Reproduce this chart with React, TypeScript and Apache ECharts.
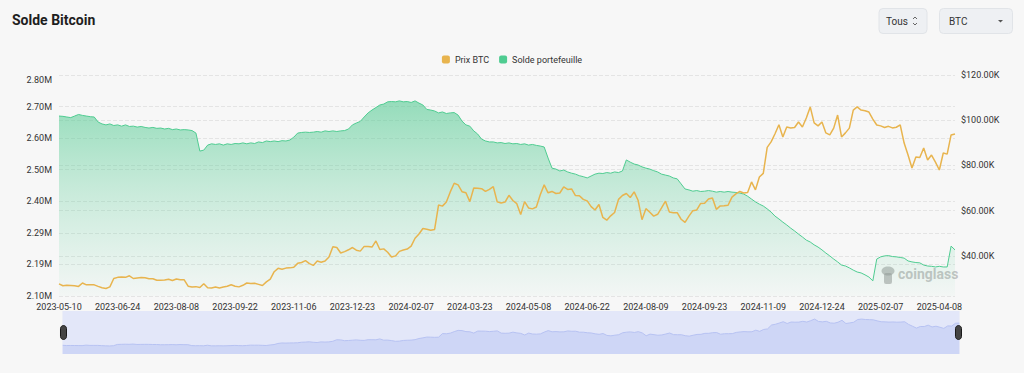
import React, { useEffect, useRef } from "react";
import * as echarts from "echarts";

// ---------- DATA ----------
const LABEL_DATES = [
  "2023-05-10", "2023-06-24", "2023-08-08", "2023-09-22", "2023-11-06",
  "2023-12-23", "2024-02-07", "2024-03-23", "2024-05-08", "2024-06-22",
  "2024-08-09", "2024-09-23", "2024-11-09", "2024-12-24", "2025-02-07",
  "2025-04-08",
];
const STEPS_PER_LABEL = 15;
const TAIL_DAYS = [4, 8, 12, 16];

// BTC price (USD)
const BTC_PRICE = [
  27600, 26800, 27000, 26900, 26800, 26500, 28000, 27200, 27200, 27200,
  26500, 25900, 25600, 26300, 30000, 30500, 30700, 30500, 31200, 30000,
  30200, 30400, 30300, 29900, 29900, 29200, 29200, 29300, 29700, 29100,
  29800, 29400, 29400, 26600, 26200, 26400, 26000, 27700, 25900, 25800,
  26200, 25800, 26200, 26600, 27200, 26600, 26300, 27000, 28000, 27800,
  27900, 27400, 26900, 28500, 29700, 33000, 34500, 34100, 34600, 34700,
  35000, 36700, 37100, 37900, 36600, 35800, 37700, 37200, 37700, 39500,
  44000, 43700, 41300, 41900, 42700, 43700, 42500, 42100, 44200, 44200,
  43900, 46600, 42800, 43100, 41600, 39500, 40000, 42000, 42600, 43000,
  44300, 47800, 49700, 52100, 51800, 51300, 51700, 62500, 62000, 63800,
  68300, 72100, 71400, 68400, 67900, 64000, 70000, 69900, 69700, 68500,
  69400, 70600, 63900, 63400, 63800, 66800, 64500, 63100, 58300, 64000,
  61200, 60800, 61600, 67000, 71400, 67900, 68500, 67600, 67800, 70500,
  69400, 69600, 66700, 66600, 65000, 64300, 61800, 60300, 62700, 57000,
  55800, 57700, 59200, 65000, 66700, 67600, 65800, 68300, 64600, 56000,
  60900, 59300, 57600, 58400, 61200, 64200, 59400, 59100, 59100, 56200,
  54800, 57600, 60000, 60300, 63200, 63300, 65200, 65600, 60600, 62100,
  62200, 62400, 66000, 67400, 68500, 67800, 68000, 72700, 69200, 74900,
  76500, 88000, 90400, 94000, 98000, 92600, 97000, 96600, 96800, 99200,
  97000, 101000, 105900, 98800, 97500, 99200, 94400, 93500, 96500, 102300,
  92600, 94400, 96500, 104500, 105900, 104500, 104200, 103600, 100500, 97900,
  97500, 96800, 97300, 96600, 96900, 97900, 89900, 84600, 78900, 83700,
  83500, 87700, 82400, 84600, 81500, 78000, 85500, 85000, 93500, 93900,
];

// Wallet balance (BTC)
const WALLET_BALANCE = [
  2665000, 2664000, 2662000, 2660000, 2665000, 2670000, 2667000, 2665000, 2663000, 2662000,
  2646000, 2640000, 2637000, 2640000, 2635000, 2637000, 2633000, 2637000, 2632000, 2633000,
  2630000, 2632000, 2629000, 2627000, 2629000, 2626000, 2627000, 2624000, 2626000, 2622000,
  2624000, 2621000, 2622000, 2621000, 2619000, 2611000, 2554000, 2557000, 2573000, 2577000,
  2575000, 2577000, 2573000, 2577000, 2575000, 2578000, 2577000, 2580000, 2577000, 2580000,
  2578000, 2583000, 2581000, 2586000, 2584000, 2586000, 2584000, 2587000, 2586000, 2589000,
  2598000, 2611000, 2613000, 2614000, 2613000, 2614000, 2616000, 2614000, 2618000, 2616000,
  2618000, 2616000, 2618000, 2619000, 2624000, 2637000, 2643000, 2648000, 2662000, 2675000,
  2684000, 2692000, 2700000, 2703000, 2710000, 2711000, 2710000, 2713000, 2710000, 2711000,
  2708000, 2713000, 2706000, 2700000, 2686000, 2684000, 2681000, 2675000, 2678000, 2673000,
  2675000, 2676000, 2668000, 2649000, 2637000, 2633000, 2618000, 2608000, 2592000, 2586000,
  2583000, 2583000, 2580000, 2581000, 2578000, 2580000, 2577000, 2578000, 2575000, 2577000,
  2573000, 2575000, 2572000, 2570000, 2567000, 2532000, 2500000, 2497000, 2491000, 2494000,
  2488000, 2484000, 2481000, 2476000, 2473000, 2469000, 2475000, 2481000, 2484000, 2483000,
  2486000, 2484000, 2488000, 2486000, 2491000, 2526000, 2519000, 2513000, 2510000, 2504000,
  2500000, 2497000, 2492000, 2488000, 2481000, 2478000, 2475000, 2469000, 2466000, 2450000,
  2434000, 2431000, 2427000, 2429000, 2426000, 2427000, 2429000, 2427000, 2424000, 2426000,
  2424000, 2426000, 2424000, 2423000, 2421000, 2418000, 2411000, 2402000, 2393000, 2386000,
  2380000, 2371000, 2361000, 2348000, 2339000, 2329000, 2320000, 2310000, 2301000, 2291000,
  2282000, 2272000, 2266000, 2257000, 2250000, 2241000, 2231000, 2222000, 2212000, 2203000,
  2193000, 2190000, 2184000, 2177000, 2171000, 2168000, 2162000, 2155000, 2143000, 2212000,
  2219000, 2222000, 2223000, 2220000, 2219000, 2217000, 2215000, 2206000, 2203000, 2201000,
  2200000, 2193000, 2190000, 2189000, 2187000, 2189000, 2187000, 2187000, 2253000, 2241000,
];

const LEFT_TICK_LABELS = ["2.10M", "2.19M", "2.29M", "2.40M", "2.50M", "2.60M", "2.70M", "2.80M"];
const LEFT_MIN = 2095000;
const LEFT_STEP = 100000;
const LEFT_MAX = 2795000;
const RIGHT_MIN = 22260;
const RIGHT_MAX = 120000;

const SERIES_NAMES = ["Prix BTC", "Solde portefeuille"];

// ---------- helpers ----------
const DAY = 86400000;
function fmtDate(t: number): string {
  const d = new Date(t);
  const m = String(d.getUTCMonth() + 1).padStart(2, "0");
  const dd = String(d.getUTCDate()).padStart(2, "0");
  return `${d.getUTCFullYear()}-${m}-${dd}`;
}
function buildDates(): string[] {
  const out: string[] = [];
  for (let i = 0; i < LABEL_DATES.length - 1; i++) {
    const a = Date.parse(LABEL_DATES[i] + "T00:00:00Z");
    const b = Date.parse(LABEL_DATES[i + 1] + "T00:00:00Z");
    const days = Math.round((b - a) / DAY);
    for (let j = 0; j < STEPS_PER_LABEL; j++) {
      out.push(fmtDate(a + Math.round((days * j) / STEPS_PER_LABEL) * DAY));
    }
  }
  const last = Date.parse(LABEL_DATES[LABEL_DATES.length - 1] + "T00:00:00Z");
  out.push(fmtDate(last));
  TAIL_DAYS.forEach((d) => out.push(fmtDate(last + d * DAY)));
  return out;
}

const FONT = "Roboto, 'Liberation Sans', Arial, sans-serif";
const YELLOW = "#e8b44e";
const GREEN = "#4fcc91";

export default function App() {
  const ref = useRef<HTMLDivElement>(null);

  useEffect(() => {
    if (!ref.current) return;
    const chart = echarts.init(ref.current, undefined, { renderer: "svg" });
    const dates = buildDates();

    const option: any = {
      animation: false,
      backgroundColor: "#f7f7f7",
      textStyle: { fontFamily: FONT },
      title: {
        text: "Solde Bitcoin",
        left: 12,
        top: 13,
        padding: 0,
        textStyle: { fontSize: 14, fontWeight: "bold", color: "#1e1e1e", fontFamily: FONT },
      },
      legend: {
        top: 50,
        left: "center",
        icon: "roundRect",
        itemWidth: 8,
        itemHeight: 8,
        itemGap: 10,
        textStyle: { fontSize: 9, color: "#333", fontFamily: FONT },
        data: SERIES_NAMES,
      },
      grid: { left: 59, right: 69, top: 75, bottom: 77 },
      xAxis: {
        type: "category",
        data: dates,
        boundaryGap: false,
        axisLine: { show: false },
        axisTick: { show: false },
        splitLine: { show: false },
        axisLabel: { interval: STEPS_PER_LABEL - 1, color: "#333", fontSize: 9, margin: 6, fontFamily: FONT },
      },
      yAxis: [
        {
          type: "value",
          position: "left",
          min: LEFT_MIN,
          max: LEFT_MAX,
          interval: LEFT_STEP,
          axisLine: { show: false },
          axisTick: { show: false },
          splitLine: { lineStyle: { type: "dashed", color: "#e4e4e4" } },
          axisLabel: {
            fontSize: 9,
            color: "#333",
            margin: 7,
            fontFamily: FONT,
            verticalAlignMaxLabel: "top",
            formatter: (v: number) => LEFT_TICK_LABELS[Math.round((v - LEFT_MIN) / LEFT_STEP)] ?? "",
          },
        },
        {
          type: "value",
          position: "right",
          min: RIGHT_MIN,
          max: RIGHT_MAX,
          splitNumber: 5,
          axisLine: { show: false },
          axisTick: { show: false },
          splitLine: { lineStyle: { type: "dashed", color: "#e4e4e4" } },
          axisLabel: {
            fontSize: 9,
            color: "#333",
            margin: 6,
            fontFamily: FONT,
            showMinLabel: false,
            formatter: (v: number) => "$" + (v / 1000).toFixed(2) + "K",
          },
        },
      ],
      dataZoom: [
        {
          type: "slider",
          xAxisIndex: 0,
          start: 0,
          end: 100,
          left: 60,
          right: 67,
          top: 311,
          height: 43,
          showDetail: false,
          brushSelect: false,
          moveHandleSize: 0,
          borderColor: "transparent",
          backgroundColor: "#e8ebfa",
          fillerColor: "rgba(200,208,245,0.15)",
          dataBackground: {
            lineStyle: { color: "#b4c0f1", width: 1 },
            areaStyle: { color: "#cfd7f6", opacity: 1 },
          },
          selectedDataBackground: {
            lineStyle: { color: "#b4c0f1", width: 1 },
            areaStyle: { color: "#cfd7f6", opacity: 1 },
          },
          handleIcon:
            "path://M3,0 C4.66,0 6,1.34 6,3 L6,11 C6,12.66 4.66,14 3,14 C1.34,14 0,12.66 0,11 L0,3 C0,1.34 1.34,0 3,0 Z",
          handleSize: 14,
          handleStyle: { color: "#444", borderColor: "#1a1a1a", borderWidth: 1 },
        },
      ],
      series: [
        {
          name: SERIES_NAMES[0],
          type: "line",
          yAxisIndex: 1,
          data: BTC_PRICE,
          symbol: "none",
          showSymbol: false,
          z: 3,
          lineStyle: { color: YELLOW, width: 1.5 },
          itemStyle: { color: YELLOW },
        },
        {
          name: SERIES_NAMES[1],
          type: "line",
          yAxisIndex: 0,
          data: WALLET_BALANCE,
          symbol: "none",
          showSymbol: false,
          z: 2,
          lineStyle: { color: GREEN, width: 1 },
          itemStyle: { color: GREEN },
          areaStyle: {
            origin: "start",
            color: new echarts.graphic.LinearGradient(
              0, 75, 0, 296,
              [
                { offset: 0, color: "rgba(76,200,142,0.95)" },
                { offset: 0.5, color: "rgba(90,205,150,0.45)" },
                { offset: 1, color: "rgba(100,210,160,0.04)" },
              ],
              true
            ),
          },
        },
      ],
      graphic: [
        {
          type: "rect",
          shape: { x: 879, y: 8.5, width: 48, height: 25, r: 4 },
          style: { fill: "#eef0f3", stroke: "#e1e4e8", lineWidth: 1 },
        },
        {
          type: "text",
          x: 886,
          y: 21,
          style: { text: "Tous", fontSize: 10, fill: "#333", fontFamily: FONT, verticalAlign: "middle" },
        },
        {
          type: "polyline",
          shape: { points: [[913, 19], [915, 17], [917, 19]] },
          style: { stroke: "#666", lineWidth: 1, fill: "none" },
        },
        {
          type: "polyline",
          shape: { points: [[913, 23], [915, 25], [917, 23]] },
          style: { stroke: "#666", lineWidth: 1, fill: "none" },
        },
        {
          type: "rect",
          shape: { x: 939.5, y: 8.5, width: 73, height: 25, r: 4 },
          style: { fill: "#eef0f3", stroke: "#e1e4e8", lineWidth: 1 },
        },
        {
          type: "text",
          x: 949,
          y: 21,
          style: { text: "BTC", fontSize: 10, fill: "#333", fontFamily: FONT, verticalAlign: "middle" },
        },
        {
          type: "polygon",
          shape: { points: [[998, 20], [1003, 20], [1000.5, 22.5]] },
          style: { fill: "#555" },
        },
        {
          type: "group",
          children: [
            {
              type: "ellipse",
              shape: { cx: 888, cy: 271, rx: 6.5, ry: 4.5 },
              style: { fill: "rgba(150,150,150,0.55)" },
            },
            {
              type: "rect",
              shape: { x: 884, y: 273, width: 8, height: 11, r: 2 },
              style: { fill: "rgba(150,150,150,0.55)" },
            },
            {
              type: "text",
              x: 898,
              y: 274,
              style: {
                text: "coinglass",
                fontSize: 14,
                fontWeight: "bold",
                fill: "rgba(150,150,150,0.55)",
                fontFamily: FONT,
                verticalAlign: "middle",
              },
            },
          ],
        },
      ],
    };

    chart.setOption(option);
    return () => chart.dispose();
  }, []);

  return (
    <div
      style={{ position: "absolute", left: 0, top: 0, width: 1024, height: 373, background: "#f7f7f7" }}
    >
      <div ref={ref} style={{ width: 1024, height: 373 }} />
    </div>
  );
}
